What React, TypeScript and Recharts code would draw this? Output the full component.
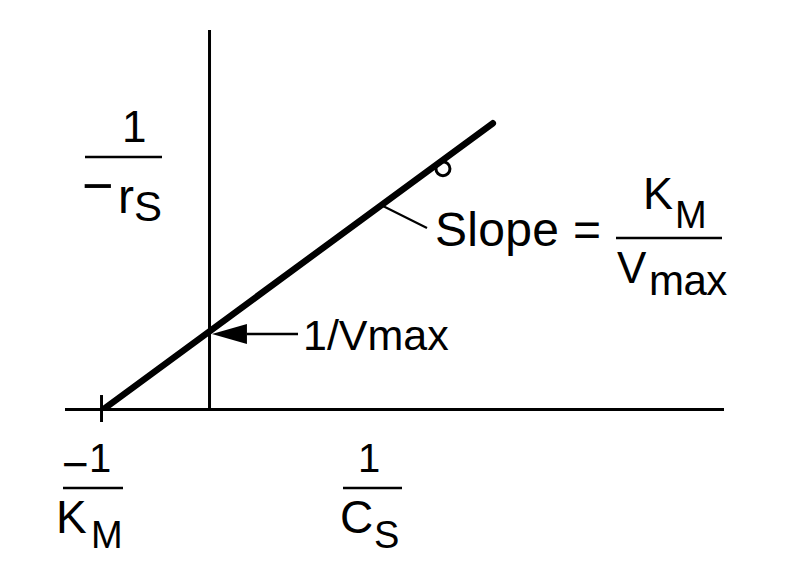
import React from "react";
import {
  LineChart,
  Line,
  XAxis,
  YAxis,
  ReferenceLine,
  ReferenceDot,
} from "recharts";

// Lineweaver-Burk plot: 1/Cs on x, 1/(-rS) on y
const invSubstrate = [-1, 2.66];
const invRate = [0, 3.66];

const xDomain = [-1.357, 4.831];
const yDomain = [0, 4.853];

const interceptY = 0.965;
const arrowTailX = 0.831;
const tickX = -1.014;

const chartData = invSubstrate.map((x, i) => ({ x, y: invRate[i] }));

const FONT = "'Liberation Sans', Arial, Helvetica, sans-serif";

const ArrowShape = (props: any) => {
  const { x1, y1, x2, y2 } = props;
  const len = Math.hypot(x2 - x1, y2 - y1) || 1;
  const ux = (x2 - x1) / len;
  const uy = (y2 - y1) / len;
  const headLen = 35;
  const headHalf = 10;
  const bx = x2 - ux * headLen;
  const by = y2 - uy * headLen;
  return (
    <g>
      <line x1={x1} y1={y1} x2={bx} y2={by} stroke="#000" strokeWidth={2.5} />
      <polygon
        points={`${x2},${y2} ${bx - uy * headHalf},${by + ux * headHalf} ${bx + uy * headHalf},${by - ux * headHalf}`}
        fill="#000"
      />
    </g>
  );
};

function Labels() {
  const t = { fontFamily: FONT, fill: "#000" } as const;
  return (
    <svg
      width={786}
      height={587}
      style={{ position: "absolute", left: 0, top: 0, pointerEvents: "none" }}
    >
      {/* y label: 1 / -rS */}
      <text {...t} x={122} y={142} fontSize={44}>1</text>
      <line x1={85} y1={157} x2={162} y2={157} stroke="#000" strokeWidth={2.5} />
      <text {...t} x={82} y={204} fontSize={54}>−</text>
      <text {...t} x={118} y={213} fontSize={48}>r</text>
      <text {...t} x={134} y={221} fontSize={42}>S</text>

      {/* -1 / KM */}
      <text {...t} x={62} y={480} fontSize={46}>−</text>
      <text {...t} x={89} y={472} fontSize={40}>1</text>
      <line x1={63} y1={488} x2={123} y2={488} stroke="#000" strokeWidth={2.5} />
      <text {...t} x={56} y={533} fontSize={46}>K</text>
      <text {...t} x={91} y={548} fontSize={38}>M</text>

      {/* 1 / CS */}
      <text {...t} x={358} y={472} fontSize={40}>1</text>
      <line x1={343} y1={488} x2={402} y2={488} stroke="#000" strokeWidth={2.5} />
      <text {...t} x={340} y={533} fontSize={46}>C</text>
      <text {...t} x={374} y={548} fontSize={38}>S</text>

      {/* Slope = KM / Vmax */}
      <text {...t} x={435} y={246} fontSize={48} letterSpacing={0.3}>Slope =</text>
      <text {...t} x={643} y={209} fontSize={45}>K</text>
      <text {...t} x={675} y={228} fontSize={38}>M</text>
      <line x1={616} y1={238} x2={722} y2={238} stroke="#000" strokeWidth={2.5} />
      <text {...t} x={617} y={283} fontSize={44}>V</text>
      <text {...t} x={649} y={295} fontSize={42} letterSpacing={-0.5}>max</text>

      {/* intercept label */}
      <text {...t} x={303} y={350} fontSize={43}>1/Vmax</text>
    </svg>
  );
}

export default function App() {
  return (
    <div
      style={{
        position: "absolute",
        left: 0,
        top: 0,
        width: 786,
        height: 587,
        background: "#fff",
      }}
    >
      <LineChart
        width={786}
        height={587}
        data={chartData}
        margin={{ top: 30, right: 62, bottom: 177.5, left: 65 }}
      >
        <XAxis type="number" dataKey="x" domain={xDomain} hide allowDataOverflow />
        <YAxis type="number" domain={yDomain} hide allowDataOverflow />
        <ReferenceLine y={0} stroke="#000" strokeWidth={3} />
        <ReferenceLine x={0} stroke="#000" strokeWidth={3} />
        <ReferenceLine
          segment={[
            { x: tickX, y: 0.185 },
            { x: tickX, y: -0.16 },
          ]}
          stroke="#000"
          strokeWidth={3}
          ifOverflow="visible"
        />
        <ReferenceLine
          segment={[
            { x: 1.61, y: 2.615 },
            { x: 2.042, y: 2.321 },
          ]}
          stroke="#000"
          strokeWidth={2.2}
        />
        <ReferenceLine
          segment={[
            { x: arrowTailX, y: interceptY },
            { x: 0.023, y: interceptY },
          ]}
          shape={ArrowShape}
        />
        <ReferenceDot
          x={2.192}
          y={3.08}
          r={7}
          fill="none"
          stroke="#000"
          strokeWidth={3}
        />
        <Line
          type="linear"
          dataKey="y"
          stroke="#000"
          strokeWidth={6.5}
          strokeLinecap="round"
          dot={false}
          isAnimationActive={false}
        />
      </LineChart>
      <Labels />
    </div>
  );
}
